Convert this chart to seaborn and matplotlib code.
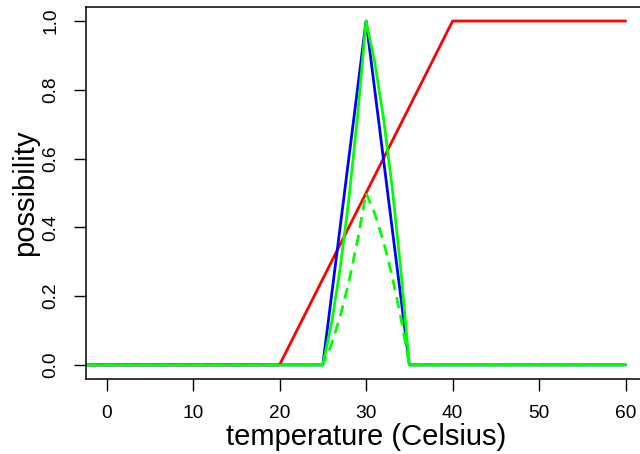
import matplotlib
matplotlib.use("Agg")
import matplotlib.pyplot as plt
import numpy as np
import pandas as pd
import seaborn as sns

# values
red_x = [-2.4, 20, 40, 60]
red_y = [0.0, 0.0, 1.0, 1.0]

blue_x = [-2.4, 25, 30, 35, 60]
blue_y = [0.0, 0.0, 1.0, 0.0, 0.0]

green_x = [-2.4, 25, 26, 27, 28, 29, 30, 31, 32, 33, 34, 35, 60]
green_y = [0.0, 0.0, 0.12, 0.28, 0.48, 0.72, 1.0, 0.88, 0.72, 0.52, 0.28, 0.0, 0.0]
green_dash_y = [0.0, 0.0, 0.06, 0.14, 0.24, 0.36, 0.5, 0.44, 0.36, 0.26, 0.14, 0.0, 0.0]

x_ticks = [0, 10, 20, 30, 40, 50, 60]
y_ticks = [0.0, 0.2, 0.4, 0.6, 0.8, 1.0]

sns.set_style("ticks")
plt.rcParams["font.family"] = ["Liberation Sans", "DejaVu Sans"]
plt.rcParams["text.color"] = "black"
plt.rcParams["axes.labelcolor"] = "black"
plt.rcParams["xtick.color"] = "black"
plt.rcParams["ytick.color"] = "black"

fig = plt.figure(figsize=(6.4, 4.54), dpi=100)
# right edge of the box lies just past the picture, as in the reference
ax = fig.add_axes([0.134, 0.166, 0.876, 0.818])

lw = 2.0
sns.lineplot(x=red_x, y=red_y, ax=ax, color="#ff0000", lw=lw, sort=False, estimator=None)
sns.lineplot(x=blue_x, y=blue_y, ax=ax, color="#0000ff", lw=lw, sort=False, estimator=None)
sns.lineplot(x=green_x, y=green_y, ax=ax, color="#00ff00", lw=lw, sort=False, estimator=None)
sns.lineplot(x=green_x, y=green_dash_y, ax=ax, color="#00ff00", lw=lw, sort=False,
             estimator=None, linestyle=(0, (4, 2.5)))

ax.set_xlim(-2.4, 62.4)
ax.set_ylim(-0.04, 1.04)
ax.set_xticks(x_ticks)
ax.set_yticks(y_ticks)
ax.set_xticklabels([str(v) for v in x_ticks], fontsize=13.8)
ax.set_yticklabels([f"{v:.1f}" for v in y_ticks], fontsize=13.8, rotation=90, va="center")
ax.tick_params(axis="x", length=8.5, width=1, colors="black", pad=10.5)
ax.tick_params(axis="y", length=8.5, width=1, colors="black", pad=10.5)
ax.set_xlabel("temperature (Celsius)", fontsize=21, labelpad=1, color="black")
ax.set_ylabel("possibility", fontsize=21, labelpad=2.5, color="black")
for s in ax.spines.values():
    s.set_linewidth(1.1)
    s.set_color("black")

fig.savefig("out.png", dpi=100)
